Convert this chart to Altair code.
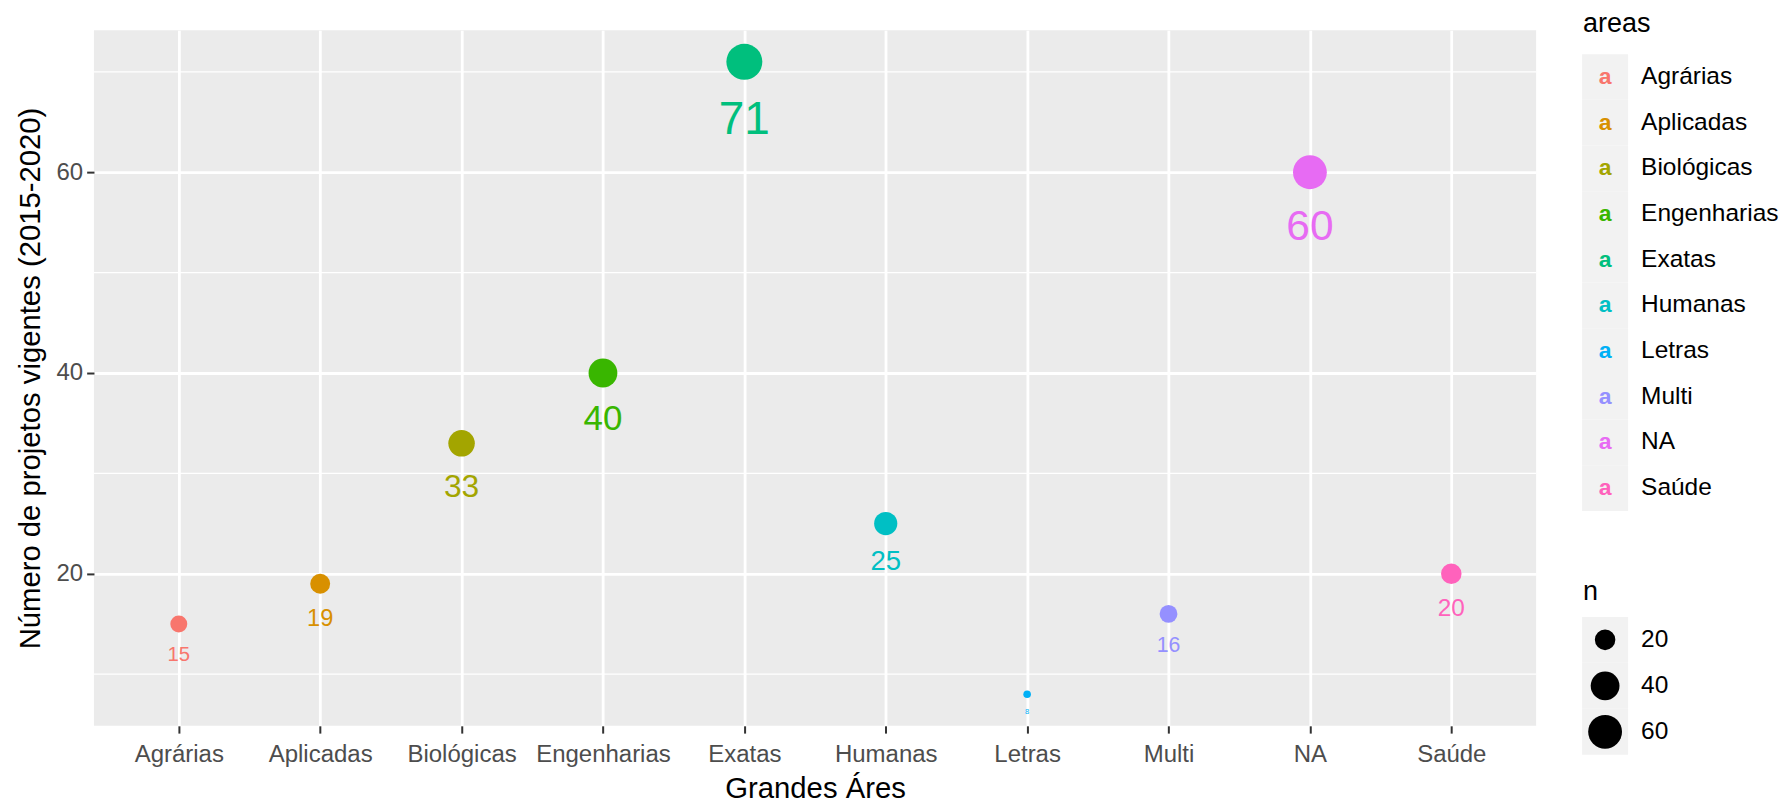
import altair as alt
import pandas as pd

# ---- data ----
areas = ["Agrárias", "Aplicadas", "Biológicas", "Engenharias", "Exatas",
         "Humanas", "Letras", "Multi", "NA", "Saúde"]
n_values = [15, 19, 33, 40, 71, 25, 8, 16, 60, 20]
palette = ["#F8766D", "#D89000", "#A3A500", "#39B600", "#00BF7D",
           "#00BFC4", "#00B0F6", "#9590FF", "#E76BF3", "#FF62BC"]
y_major = [20, 40, 60]
y_minor = [10, 30, 50, 70]
size_breaks = [20, 40, 60]

df = pd.DataFrame({"areas": areas, "n": n_values})
df_minor = pd.DataFrame({"v": y_minor})
df_leg = pd.DataFrame({"areas": areas})
df_size = pd.DataFrame({"v": size_breaks})
df_t1 = pd.DataFrame({"t": ["areas"]})
df_t2 = pd.DataFrame({"t": ["n"]})

FONT = "Liberation Sans"
nmin, nmax = min(n_values), max(n_values)
pad = (nmax - nmin) * 0.05
y_dom = [nmin - pad, nmax + pad]

color_scale = alt.Scale(domain=areas, range=palette)
size_scale = alt.Scale(type="sqrt", domain=[nmin, nmax], range=[57.5, 1296])

x_enc = alt.X("areas:N", sort=areas,
              scale=alt.Scale(type="point", padding=0.6),
              axis=alt.Axis(title="Grandes Áres", grid=True, gridColor="white",
                            gridWidth=2.8, domain=False, tickColor="#333333",
                            tickSize=7.3, tickWidth=2, labelFont=FONT,
                            labelFontSize=24, labelColor="#4D4D4D",
                            labelPadding=9, labelAngle=0,
                            titleFont=FONT, titleFontSize=29.3,
                            titleFontWeight="normal", titleColor="black",
                            titlePadding=8))
y_axis = alt.Axis(title="Número de projetos vigentes (2015-2020)", values=y_major,
                  grid=True, gridColor="white", gridWidth=2.8, domain=False,
                  tickColor="#333333", tickSize=7.3, tickWidth=2,
                  labelFont=FONT, labelFontSize=24, labelColor="#4D4D4D",
                  labelPadding=4, titleFont=FONT, titleFontSize=29.3,
                  titleFontWeight="normal", titleColor="black", titlePadding=10)
y_scale = alt.Scale(domain=y_dom, nice=False, zero=False)

minor = alt.Chart(df_minor).mark_rule(color="white", strokeWidth=1.4).encode(
    y=alt.Y("v:Q", scale=y_scale, axis=y_axis))

points = alt.Chart(df).mark_circle(opacity=1).encode(
    x=x_enc,
    y=alt.Y("n:Q", scale=y_scale, axis=y_axis),
    color=alt.Color("areas:N", scale=color_scale, legend=None),
    size=alt.Size("n:Q", scale=size_scale, legend=None),
)

labels = alt.Chart(df).transform_joinaggregate(
    nmin="min(n)", nmax="max(n)"
).transform_calculate(
    s="sqrt((datum.n - datum.nmin) / (datum.nmax - datum.nmin))",
    ly="datum.n - 4 * datum.s",
).mark_text(baseline="middle", dy=18, font=FONT).encode(
    x=x_enc,
    y=alt.Y("ly:Q", scale=y_scale, axis=y_axis),
    text="n:Q",
    color=alt.Color("areas:N", scale=color_scale, legend=None),
    size=alt.Size("s:Q", scale=alt.Scale(domain=[0, 1], range=[7.6, 46]), legend=None),
)

main = alt.layer(minor, points, labels).resolve_scale(size="independent").properties(
    width=1443, height=696, view=alt.ViewBackground(fill="#EBEBEB", stroke=None))

# ---- legends (drawn as a small panel beside the plot) ----
lb = alt.Chart(df_leg).encode(
    y=alt.Y("areas:N", sort=areas, axis=None,
            scale=alt.Scale(type="band", range=[24, 481],
                            paddingInner=0, paddingOuter=0)))
leg_bg = lb.mark_rect(color="#F2F2F2").encode(x=alt.value(0), x2=alt.value(46))
leg_glyph = lb.mark_text(text="a", font=FONT, fontSize=23, fontWeight="bold").encode(
    x=alt.value(23), color=alt.Color("areas:N", scale=color_scale, legend=None))
leg_lab = lb.mark_text(align="left", font=FONT, fontSize=24.5, color="black").encode(
    x=alt.value(59), text="areas:N")

sb = alt.Chart(df_size).encode(
    y=alt.Y("v:O", axis=None,
            scale=alt.Scale(type="band", range=[587, 725],
                            paddingInner=0, paddingOuter=0)))
s_bg = sb.mark_rect(color="#F2F2F2").encode(x=alt.value(0), x2=alt.value(46))
s_pt = sb.mark_circle(color="black", opacity=1).encode(
    x=alt.value(23), size=alt.Size("v:Q", scale=size_scale, legend=None))
s_lab = sb.mark_text(align="left", font=FONT, fontSize=24.5, color="black").encode(
    x=alt.value(59), text="v:Q")

t1 = alt.Chart(df_t1).mark_text(align="left", baseline="alphabetic", font=FONT,
                                fontSize=27, color="black").encode(
    x=alt.value(1), y=alt.value(2), text="t:N")
t2 = alt.Chart(df_t2).mark_text(align="left", baseline="alphabetic", font=FONT,
                                fontSize=27, color="black").encode(
    x=alt.value(1), y=alt.value(570), text="t:N")

legends = alt.layer(leg_bg, leg_glyph, leg_lab, s_bg, s_pt, s_lab, t1, t2).resolve_scale(
    y="independent", size="independent").properties(
    width=192, height=696, view=alt.ViewBackground(stroke=None))

chart = alt.hconcat(main, legends, spacing=45).resolve_scale(
    color="independent", size="independent"
).properties(
    padding={"left": 9, "top": 2, "right": 0, "bottom": 0}
).configure_view(stroke=None)

chart.save("out.html", embed_options={"renderer": "svg", "actions": False})
